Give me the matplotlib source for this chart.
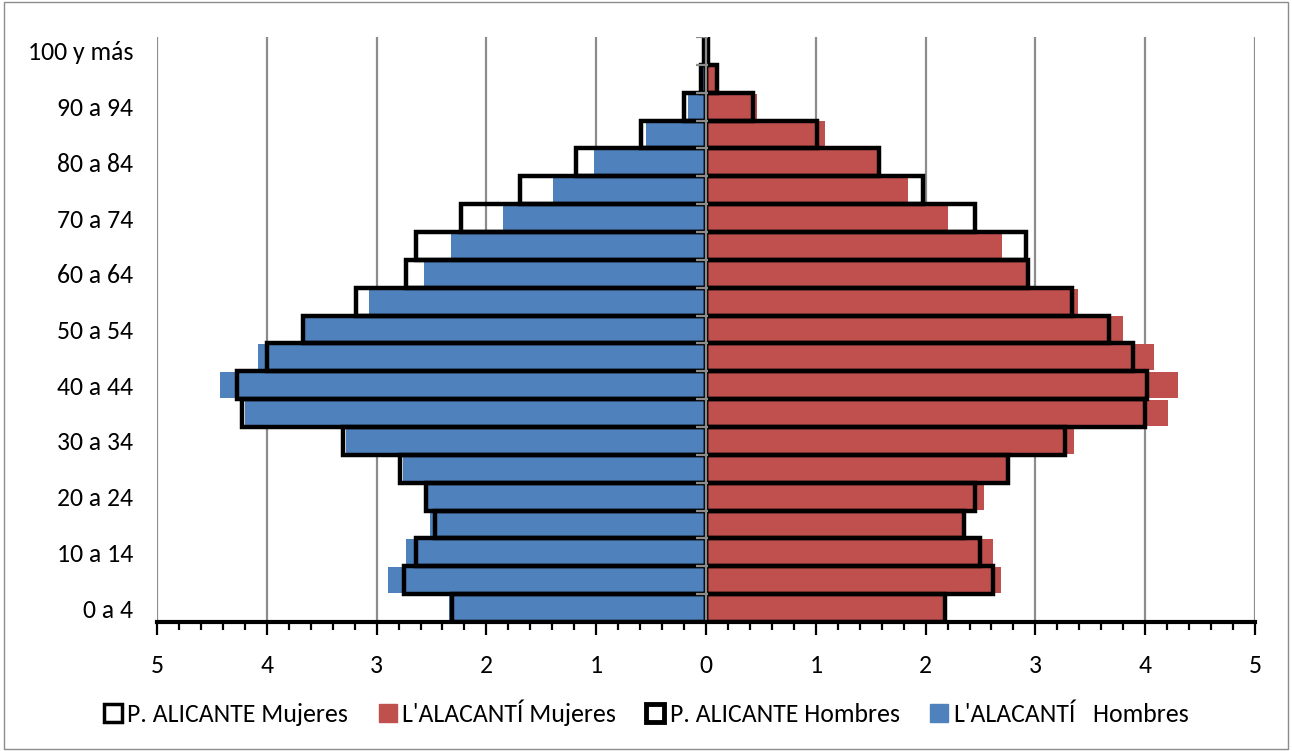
import matplotlib.pyplot as plt
import numpy as np
from matplotlib.patches import Patch, Rectangle

plt.rcParams['font.family'] = ['Carlito', 'Lato', 'DejaVu Sans']

# age groups, bottom to top
grupos = ['0 a 4', '5 a 9', '10 a 14', '15 a 19', '20 a 24', '25 a 29', '30 a 34',
          '35 a 39', '40 a 44', '45 a 49', '50 a 54', '55 a 59', '60 a 64', '65 a 69',
          '70 a 74', '75 a 79', '80 a 84', '85 a 89', '90 a 94', '95 a 99', '100 y más']

# percentages (%)
alacanti_hombres = [2.34, 2.90, 2.73, 2.51, 2.53, 2.76, 3.28, 4.20, 4.43, 4.08, 3.65,
                    3.07, 2.57, 2.32, 1.85, 1.39, 1.02, 0.55, 0.16, 0.03, 0.01]
alicante_hombres = [2.31, 2.75, 2.64, 2.47, 2.55, 2.79, 3.31, 4.23, 4.27, 4.00, 3.67,
                    3.19, 2.73, 2.64, 2.23, 1.69, 1.18, 0.59, 0.20, 0.05, 0.02]
alacanti_mujeres = [2.18, 2.69, 2.61, 2.37, 2.53, 2.73, 3.35, 4.21, 4.30, 4.08, 3.80,
                    3.39, 2.91, 2.70, 2.20, 1.84, 1.57, 1.08, 0.46, 0.08, 0.01]
alicante_mujeres = [2.18, 2.61, 2.50, 2.35, 2.45, 2.75, 3.27, 4.00, 4.02, 3.89, 3.67,
                    3.33, 2.93, 2.91, 2.45, 1.98, 1.58, 1.01, 0.43, 0.10, 0.02]

blue = '#4F81BD'
red = '#C0504D'

fig = plt.figure(figsize=(12.92, 7.51), dpi=100)
ax = fig.add_axes([157 / 1292, 1 - 622 / 751, (1255 - 157) / 1292, (622 - 37) / 751])

y = np.arange(len(grupos))

# grid
for v in range(-5, 6):
    if v != 0:
        ax.axvline(v, color='#8c8c8c', lw=1.6, zorder=0)

ax.barh(y, -np.array(alacanti_hombres), height=0.94, color=blue, zorder=2)
ax.barh(y, alacanti_mujeres, height=0.94, color=red, zorder=2)
ax.barh(y, -np.array(alicante_hombres), height=1.0, fill=False, edgecolor='black',
        lw=3.2, zorder=3)
ax.barh(y, alicante_mujeres, height=1.0, fill=False, edgecolor='black',
        lw=3.2, zorder=3)

# central axis with category ticks
ax.axvline(0, color='#8c8c8c', lw=1.6, zorder=4)
bounds = np.arange(len(grupos) + 1) - 0.5
ax.plot(np.full(len(bounds), -0.04), bounds, ls='none', marker='_', ms=8,
        mew=1.6, color='#8c8c8c', zorder=4)

ax.set_xlim(-5, 5)
ax.set_ylim(-0.5, len(grupos) - 0.5)
ax.set_yticks(y)
ax.set_yticklabels([g if i % 2 == 0 else '' for i, g in enumerate(grupos)], fontsize=18.5)
ax.tick_params(axis='y', length=0, pad=17)

ax.set_xticks(range(-5, 6))
ax.set_xticklabels([str(abs(v)) for v in range(-5, 6)], fontsize=18.5)
ax.set_xticks(np.arange(-5, 5.01, 0.2), minor=True)
ax.tick_params(axis='x', which='major', length=9, width=1.6, direction='out', pad=14)
ax.tick_params(axis='x', which='minor', length=6, width=1.6, direction='out')

for s in ['top', 'right', 'left']:
    ax.spines[s].set_visible(False)
ax.spines['bottom'].set_linewidth(3)
ax.spines['bottom'].set_zorder(5)

handles = [
    Patch(facecolor='white', edgecolor='black', lw=2.5, label='P. ALICANTE Mujeres'),
    Patch(facecolor=red, edgecolor=red, label="L'ALACANTÍ Mujeres"),
    Patch(facecolor='white', edgecolor='black', lw=3.5, label='P. ALICANTE Hombres'),
    Patch(facecolor=blue, edgecolor=blue, label="L'ALACANTÍ   Hombres"),
]
fig.legend(handles=handles, loc='center', bbox_to_anchor=(0.5, 1 - 713 / 751), ncol=4,
           frameon=False, fontsize=18.5, handlelength=0.7, handleheight=0.7,
           handletextpad=0.2, columnspacing=1.2)

fig.patches.append(Rectangle((0.003, 0.003), 0.994, 0.994, transform=fig.transFigure,
                             fill=False, edgecolor='#8c8c8c', lw=1))

fig.savefig('out.png', dpi=100)
